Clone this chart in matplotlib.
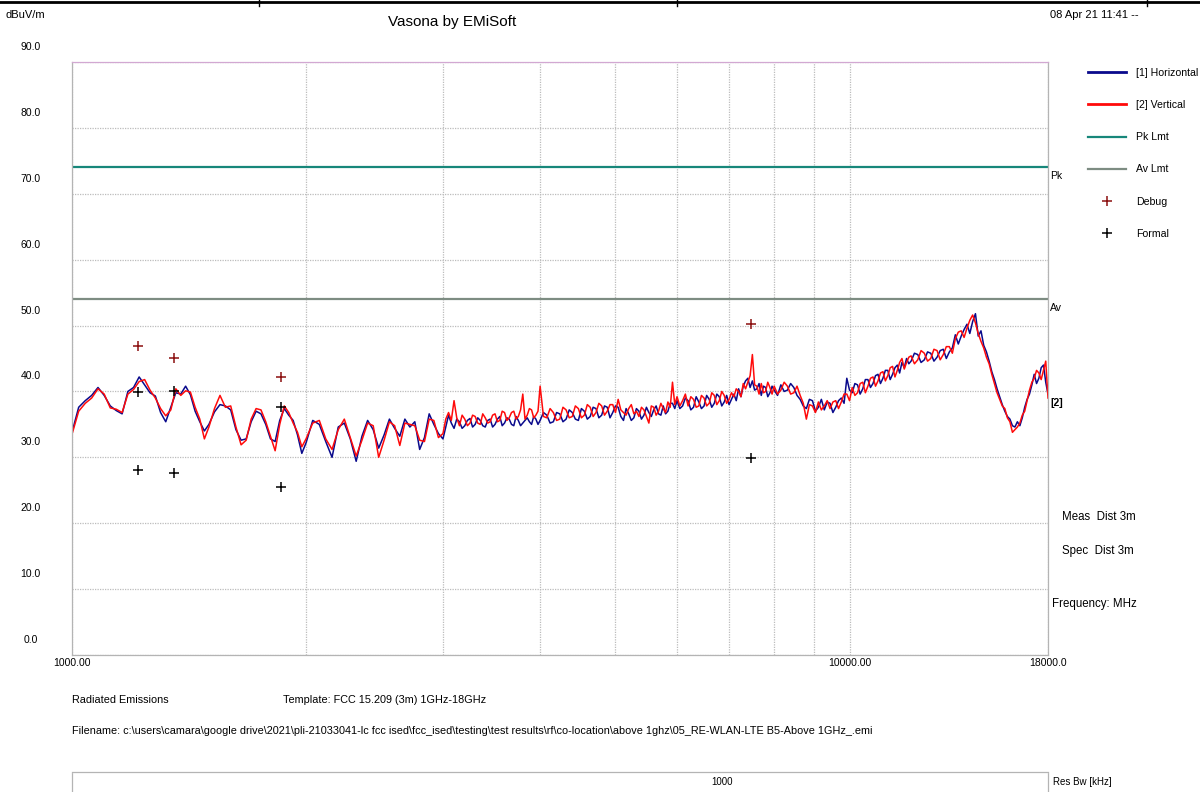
import matplotlib.pyplot as plt
from matplotlib.ticker import NullFormatter
from matplotlib.transforms import ScaledTranslation
from matplotlib.lines import Line2D

plt.rcParams['font.family'] = ['Liberation Sans', 'DejaVu Sans']

# sweep frequencies (MHz) shared by both polarisations
freq_mhz = [
    1000, 1020, 1040, 1060, 1080, 1100, 1120, 1140, 1160, 1180, 1200, 1220, 1240,
    1260, 1280, 1300, 1320, 1340, 1360, 1380, 1400, 1420, 1440, 1460, 1480,
    1500, 1525, 1550, 1575, 1600, 1625, 1650, 1675, 1700, 1725, 1750, 1775, 1800,
    1825, 1850, 1875, 1900, 1925, 1950, 1975,
    2000, 2040, 2080, 2120, 2160, 2200, 2240, 2280, 2320, 2360, 2400, 2440, 2480,
    2520, 2560, 2600, 2640, 2680, 2720, 2760, 2800, 2840, 2880, 2920, 2960,
    3000, 3025, 3050, 3075, 3100, 3125, 3150, 3175, 3200, 3225, 3250, 3275, 3300,
    3325, 3350, 3375, 3400, 3425, 3450, 3475, 3500, 3525, 3550, 3575, 3600, 3625,
    3650, 3675, 3700, 3725, 3750, 3775, 3800, 3825, 3850, 3875, 3900, 3925, 3950, 3975,
    4000, 4040, 4080, 4120, 4160, 4200, 4240, 4280, 4320, 4360, 4400, 4440, 4480,
    4520, 4560, 4600, 4640, 4680, 4720, 4760, 4800, 4840, 4880, 4920, 4960, 5000,
    5040, 5080, 5120, 5160, 5200, 5240, 5280, 5320, 5360, 5400, 5440, 5480, 5520,
    5560, 5600, 5640, 5680, 5720, 5760, 5800, 5840, 5880, 5920, 5960,
    6000, 6050, 6100, 6150, 6200, 6250, 6300, 6350, 6400, 6450, 6500, 6550, 6600,
    6650, 6700, 6750, 6800, 6850, 6900, 6950, 7000, 7050, 7100, 7150, 7200, 7250,
    7300, 7350, 7400, 7450, 7500, 7550, 7600, 7650, 7700, 7750, 7800, 7850, 7900, 7950,
    8000, 8080, 8160, 8240, 8320, 8400, 8480, 8560, 8640, 8720, 8800, 8880, 8960,
    9040, 9120, 9200, 9280, 9360, 9440, 9520, 9600, 9680, 9760, 9840, 9920, 10000,
    10080, 10160, 10240, 10320, 10400, 10480, 10560, 10640, 10720, 10800, 10880,
    10960, 11040, 11120, 11200, 11280, 11360, 11440, 11520, 11600, 11680, 11760,
    11840, 11920,
    12000, 12120, 12240, 12360, 12480, 12600, 12720, 12840, 12960, 13080, 13200,
    13320, 13440, 13560, 13680, 13800, 13920, 14040, 14160, 14280, 14400, 14520,
    14640, 14760, 14880, 15000, 15120, 15240, 15360, 15480, 15600, 15720, 15840,
    15960, 16080, 16200, 16320, 16440, 16560, 16680, 16800, 16920, 17040, 17160,
    17280, 17400, 17520, 17640, 17760, 17880, 18000,
]

# [1] Horizontal (dBuV/m)
horizontal = [
    33.8, 37.6, 38.6, 39.4, 40.6, 39.4, 37.8, 37.1, 36.6, 40.0, 40.6, 42.2, 41.0,
    39.8, 39.3, 36.8, 35.4, 37.6, 39.8, 39.6, 40.8, 39.5, 37.0, 35.4, 34.0,
    35.0, 36.9, 38.0, 37.8, 37.2, 34.2, 32.6, 32.8, 35.4, 37.0, 36.6, 35.0, 32.8,
    32.4, 35.6, 37.4, 36.4, 35.6, 33.4, 30.6,
    32.2, 35.6, 35.0, 32.4, 30.0, 34.6, 35.2, 32.8, 29.4, 33.2, 35.6, 34.2, 31.4,
    33.4, 35.8, 34.4, 33.2, 35.8, 34.6, 35.4, 31.2, 33.0, 36.6, 35.0, 33.6,
    32.8, 34.6, 36.4, 35.2, 34.4, 35.8, 35.4, 34.4, 34.8, 35.6, 35.9, 34.6, 35.0,
    36.0, 35.6, 34.8, 34.6, 35.6, 35.8, 34.6, 35.0, 35.8, 36.2, 34.8, 35.2, 36.0,
    35.8, 35.0, 34.8, 36.2, 35.6, 34.8, 35.2, 35.6, 36.0, 35.4, 35.0, 36.2, 35.8, 35.0,
    35.6, 36.8, 36.4, 35.2, 35.4, 36.8, 36.6, 35.4, 35.8, 37.2, 36.8, 35.8, 35.6,
    37.4, 37.0, 35.8, 36.2, 37.6, 37.4, 36.0, 36.4, 37.8, 37.6, 36.0, 36.8, 37.8,
    37.6, 36.2, 35.6, 37.4, 36.6, 35.6, 36.0, 37.4, 37.0, 35.8, 36.4, 37.6, 36.8,
    36.2, 37.2, 37.8, 36.6, 36.4, 37.8, 36.6, 37.0, 38.2, 38.2, 37.4,
    38.6, 37.4, 37.8, 39.0, 38.6, 37.2, 37.6, 39.2, 38.4, 37.4, 37.8, 39.4, 38.8,
    37.6, 38.2, 39.6, 39.2, 37.8, 38.4, 39.4, 38.0, 38.8, 39.6, 38.6, 40.4, 39.2,
    40.8, 41.6, 42.0, 40.6, 41.6, 40.2, 40.4, 41.2, 39.4, 40.8, 40.6, 39.2, 39.8, 40.8,
    40.2, 39.4, 41.0, 40.0, 40.2, 41.2, 40.6, 39.4, 38.8, 37.8, 37.4, 38.8, 38.6,
    37.0, 37.6, 38.8, 37.2, 38.4, 38.2, 36.8, 37.6, 38.6, 39.0, 38.2, 42.0, 40.2,
    39.8, 41.2, 41.0, 39.6, 40.4, 41.8, 41.8, 40.6, 41.2, 42.4, 42.6,
    41.2, 42.0, 43.2, 43.2, 41.8, 42.6, 43.6, 44.0, 42.8, 44.4, 43.6,
    45.0, 44.2,
    44.6, 45.8, 45.6, 44.4, 44.8, 46.0, 45.8, 44.6, 45.2, 46.2, 46.4,
    45.0, 46.0, 46.6, 48.6, 47.2, 48.4, 49.4, 50.2, 48.8, 50.6, 51.8,
    48.4, 49.2, 47.0, 46.0, 44.6, 43.0, 41.8, 40.4, 39.2, 38.0, 37.0,
    36.2, 35.8, 34.8, 34.6, 35.4, 34.8, 36.0, 37.6, 38.8, 39.6, 41.0,
    42.6, 41.2, 42.0, 43.6, 44.0, 41.4, 39.6,
]

# [2] Vertical (dBuV/m)
vertical = [
    33.5, 37.0, 38.2, 39.0, 40.4, 39.6, 37.5, 37.3, 36.8, 39.6, 40.3, 41.5, 41.8,
    40.2, 39.0, 37.4, 36.3, 37.2, 40.4, 39.4, 40.1, 39.9, 37.6, 35.8, 32.8,
    34.6, 37.4, 39.4, 37.6, 37.8, 34.6, 31.9, 32.6, 35.8, 37.4, 37.2, 35.4, 33.2,
    31.0, 35.0, 37.8, 36.8, 35.2, 33.8, 31.6,
    32.8, 35.2, 35.6, 32.8, 31.2, 34.2, 35.8, 33.0, 30.2, 32.6, 35.2, 34.8, 30.0,
    32.6, 35.4, 34.8, 31.8, 35.2, 35.0, 34.8, 32.6, 32.4, 35.8, 35.6, 33.0,
    33.6, 35.8, 36.8, 35.6, 38.6, 36.0, 34.8, 36.4, 35.8, 34.8, 35.2, 36.4, 36.2,
    35.2, 35.0, 36.6, 36.0, 35.2, 35.4, 36.4, 36.6, 35.4, 35.6, 37.0, 36.8, 35.6,
    36.0, 36.8, 37.0, 35.8, 36.2, 37.2, 39.6, 35.8, 36.4, 37.4, 37.2, 36.0, 36.4, 37.0,
    40.8, 36.2, 36.0, 37.4, 36.8, 35.6, 35.8, 37.6, 37.2, 36.0, 36.2, 37.8, 37.4,
    36.0, 36.4, 38.0, 37.6, 36.2, 36.8, 38.2, 37.8, 36.4, 37.0, 38.0, 38.0, 36.8,
    38.8, 37.2, 36.8, 36.4, 37.4, 38.0, 36.6, 37.0, 36.2, 37.6, 37.2, 36.2, 35.2,
    37.8, 37.6, 36.4, 37.0, 38.2, 37.4, 36.8, 38.4, 37.6, 41.4, 38.0,
    39.2, 37.8, 38.6, 39.6, 37.8, 39.2, 38.8, 37.6, 37.8, 39.4, 39.0, 37.8, 38.2,
    39.8, 39.4, 38.0, 38.6, 40.0, 39.4, 38.2, 38.8, 39.8, 39.2, 40.4, 40.0, 39.2,
    41.2, 40.4, 41.4, 42.4, 45.6, 41.0, 40.8, 39.6, 41.2, 39.8, 40.0, 41.4, 40.6, 39.6,
    40.8, 39.6, 40.2, 41.4, 40.8, 39.6, 39.8, 40.8, 39.4, 38.2, 35.8, 38.0, 37.8,
    36.8, 38.4, 37.2, 37.8, 38.6, 37.4, 38.4, 38.6, 37.4, 38.4, 39.6, 39.6, 38.6,
    40.6, 39.4, 39.8, 41.2, 41.4, 39.8, 40.8, 42.0, 42.2, 40.8, 41.6,
    42.8, 43.0, 41.6, 42.4, 43.6, 43.8, 42.2, 43.2, 44.4, 45.0, 43.4,
    44.4, 45.2,
    45.4, 44.2, 44.8, 46.2, 45.8, 44.6, 45.0, 46.4, 46.2, 44.8, 45.6,
    46.8, 46.8, 45.8, 48.0, 49.0, 49.2, 48.2, 49.6, 50.8, 51.6, 50.4,
    48.8, 47.6, 46.6, 45.2, 44.2, 42.6, 41.2, 39.8, 38.8, 37.8, 37.4,
    36.0, 35.4, 33.8, 34.2, 34.6, 35.2, 36.4, 37.0, 38.6, 40.2, 41.4,
    42.0, 43.2, 42.8, 41.8, 43.2, 44.6, 39.0,
]

limit_freq = [1000, 18000]
pk_limit = [74.0, 74.0]
av_limit = [54.0, 54.0]

debug_freq = [1217, 1353, 1857, 7462]
debug_level = [46.9, 45.1, 42.2, 50.3]
formal_freq = [1217, 1353, 1857, 1217, 1353, 1857, 7462]
formal_level = [39.9, 40.0, 37.6, 28.1, 27.6, 25.5, 29.9]

y_ticks = list(range(0, 91, 10))
x_major = [1000, 10000, 18000]
x_major_labels = ["1000.00", "10000.00", "18000.0"]
x_minor = [2000, 3000, 4000, 5000, 6000, 7000, 8000, 9000]

W, H = 1200, 792
fig = plt.figure(figsize=(W / 100, H / 100), dpi=100)
ax = fig.add_axes([72 / W, 1 - 655 / H, 976 / W, 593 / H])

grid_kw = dict(color='#bcbcbc', linestyle=(0, (1, 1)), linewidth=0.9)

pk_line, = ax.plot(limit_freq, pk_limit, color='#17877a', lw=1.6)
av_line, = ax.plot(limit_freq, av_limit, color='#7d8c82', lw=1.6)
h_line, = ax.plot(freq_mhz, horizontal, color='#0a0a8c', lw=1.1)
v_line, = ax.plot(freq_mhz, vertical, color='#ff0a0a', lw=1.1)
dbg, = ax.plot(debug_freq, debug_level, ls='none', marker='+', ms=7, mew=1.1, color='#8b1010')
frm, = ax.plot(formal_freq, formal_level, ls='none', marker='+', ms=7, mew=1.1, color='black')

ax.set_xscale('log')
ax.set_xlim(1000, 18000)
ax.set_ylim(0, 90)
ax.set_xticks(x_major)
ax.set_xticklabels(x_major_labels)
ax.set_xticks(x_minor, minor=True)
ax.xaxis.set_minor_formatter(NullFormatter())
ax.set_yticks(y_ticks)
ax.set_yticklabels([f"{v:.1f}" for v in y_ticks])
ax.tick_params(axis='both', which='both', length=0, labelsize=7.5)
ax.tick_params(axis='y', pad=35)
ax.tick_params(axis='x', pad=2)
# y labels sit above their grid lines
for lab in ax.get_yticklabels():
    lab.set_transform(lab.get_transform() + ScaledTranslation(0.07, 0.16, fig.dpi_scale_trans))
    lab.set_horizontalalignment('center')
ax.grid(True, which='both', **grid_kw)
ax.set_axisbelow(True)
for side in ['left', 'right', 'bottom']:
    ax.spines[side].set(color='#b4b4b4', linestyle=(0, (1, 1)), linewidth=0.9)
ax.spines['top'].set(color='#d2a8d2', linestyle=(0, (1, 1)), linewidth=0.9)

# labels right of the plot
down = ScaledTranslation(0, -0.04, fig.dpi_scale_trans)
ax.text(1.002, 74.0, "Pk", transform=ax.get_yaxis_transform() + down, fontsize=7.5, va='top')
ax.text(1.002, 54.0, "Av", transform=ax.get_yaxis_transform() + down, fontsize=7.5, va='top')
ax.text(1.002, horizontal[-1], "[2]", transform=ax.get_yaxis_transform() + down,
        fontsize=7.5, va='top', fontweight='bold')

fig.legend(handles=[h_line, v_line, pk_line, av_line, dbg, frm],
           labels=['[1] Horizontal', '[2] Vertical', 'Pk Lmt', 'Av Lmt', 'Debug', 'Formal'],
           loc='upper left', bbox_to_anchor=(1088 / W, 1 - 68 / H), frameon=False,
           fontsize=7.6, handlelength=3.6, handletextpad=0.95, labelspacing=2.1,
           borderaxespad=0, borderpad=0)
for lh in fig.legends[0].get_lines()[:2]:
    lh.set_linewidth(2)

# header
fig.add_artist(Line2D([0, 1], [1 - 1.5 / H, 1 - 1.5 / H], color='black', lw=2))
for xt in [259, 677, 1147]:
    fig.add_artist(Line2D([xt / W, xt / W], [1, 1 - 6 / H], color='black', lw=1))
fig.text(6 / W, 1 - 15 / H, "dBuV/m", fontsize=8, va='center', ha='left')
fig.text(452 / W, 1 - 22 / H, "Vasona by EMiSoft", fontsize=11, va='center', ha='center')
fig.text(1050 / W, 1 - 15 / H, "08 Apr 21 11:41 --", fontsize=8, va='center', ha='left')

fig.text(1062 / W, 1 - 517 / H, "Meas  Dist 3m", fontsize=8.3, va='center', ha='left')
fig.text(1062 / W, 1 - 551 / H, "Spec  Dist 3m", fontsize=8.3, va='center', ha='left')
fig.text(1052 / W, 1 - 604 / H, "Frequency: MHz", fontsize=8.3, va='center', ha='left')

# footer
fig.text(72 / W, 1 - 700 / H, "Radiated Emissions", fontsize=7.8, va='center', ha='left')
fig.text(283 / W, 1 - 700 / H, "Template: FCC 15.209 (3m) 1GHz-18GHz", fontsize=7.8,
         va='center', ha='left')
fig.text(72 / W, 1 - 731 / H,
         "Filename: c:\\users\\camara\\google drive\\2021\\pli-21033041-lc fcc ised\\fcc_ised\\testing"
         "\\test results\\rf\\co-location\\above 1ghz\\05_RE-WLAN-LTE B5-Above 1GHz_.emi",
         fontsize=7.8, va='center', ha='left')

bx = fig.add_axes([72 / W, 0, 976 / W, 20 / H])
bx.set_xticks([])
bx.set_yticks([])
for side in ['left', 'right', 'top']:
    bx.spines[side].set(color='#b4b4b4', linestyle=(0, (1, 1)), linewidth=0.9)
bx.spines['bottom'].set_visible(False)
fig.text(722 / W, 1 - 782 / H, "1000", fontsize=7, va='center', ha='center')
fig.text(1053 / W, 1 - 782 / H, "Res Bw [kHz]", fontsize=7, va='center', ha='left')

fig.savefig("out.png", dpi=100)
